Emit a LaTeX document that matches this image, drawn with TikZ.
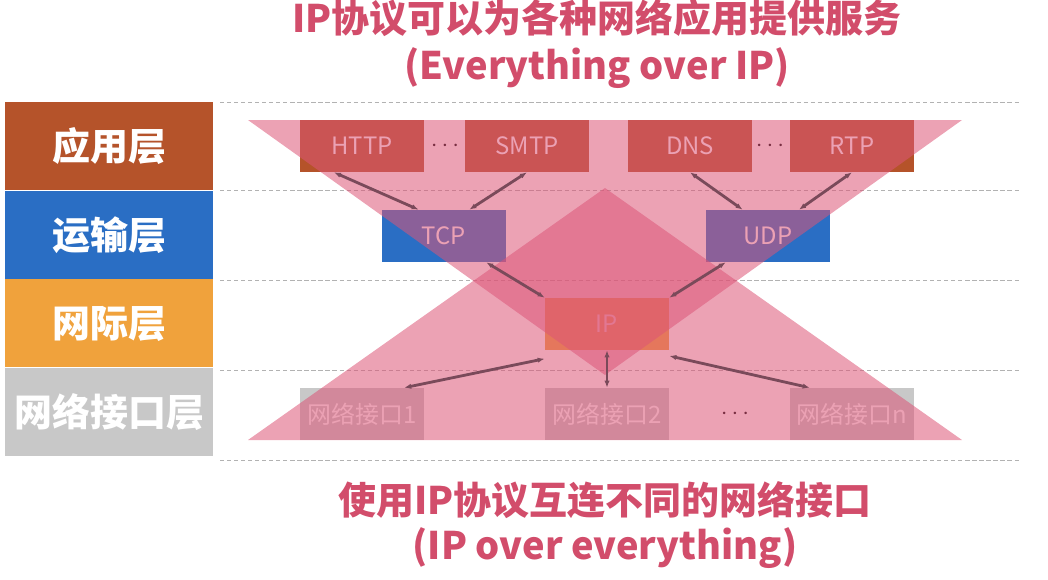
\documentclass[tikz,border=0pt]{standalone}
\usepackage{fontspec}
\setmainfont{Noto Sans CJK SC}
\usetikzlibrary{positioning,arrows.meta}
\definecolor{titlered}{HTML}{D24D6B}
\definecolor{appbrown}{HTML}{B5532A}
\definecolor{tpblue}{HTML}{2A6EC4}
\definecolor{iporange}{HTML}{F0A23C}
\definecolor{ifgray}{HTML}{C8C8C8}
\definecolor{trired}{HTML}{DC5577}
\definecolor{arrowc}{HTML}{7A4A5A}
\tikzset{
    layer/.style={minimum width=5.2cm, minimum height=2.2cm, text=white, font=\bfseries\fontsize{27}{27}\selectfont, inner sep=0pt},
    proto/.style={minimum width=3.1cm, minimum height=1.3cm, text=white, font=\fontsize{17}{17}\selectfont, inner sep=0pt},
    dots/.style={font=\bfseries\fontsize{17}{17}\selectfont},
    link/.style={{Latex[length=5pt]}-{Latex[length=5pt]}, arrowc, line width=2pt},
    sep/.style={densely dashed, gray!60, line width=0.6pt},
    title/.style={text=titlered, font=\bfseries\fontsize{27}{27}\selectfont},
}
\begin{document}
\begin{tikzpicture}[x=0.025cm, y=-0.025cm]
\useasboundingbox (0,0) rectangle (1048,580);
% layers on the left
\node[layer, fill=appbrown, anchor=north west] (app) at (5,102) {应用层};
\node[layer, fill=tpblue, below=0pt of app] (trans) {运输层};
\node[layer, fill=iporange, below=0pt of trans] (net) {网际层};
\node[layer, fill=ifgray, below=0pt of net] (iface) {网络接口层};
\foreach \y in {102,190,280,370,460}
    \draw[sep] (220,\y) -- (1020,\y);
% protocols
\node[proto, fill=appbrown] (http) at (362,146) {HTTP};
\node[dots] (d1) at (445,146) {$\cdots$};
\node[proto, fill=appbrown] (smtp) at (527,146) {SMTP};
\node[proto, fill=appbrown] (dns) at (690,146) {DNS};
\node[dots] (d2) at (770,146) {$\cdots$};
\node[proto, fill=appbrown] (rtp) at (852,146) {RTP};
\node[proto, fill=tpblue] (tcp) at (444,236) {TCP};
\node[proto, fill=tpblue] (udp) at (768,236) {UDP};
\node[proto, fill=iporange] (ip) at (607,324) {IP};
\node[proto, fill=ifgray] (n1) at (362,414) {网络接口1};
\node[proto, fill=ifgray] (n2) at (607,414) {网络接口2};
\node[dots] (d3) at (735,414) {$\cdots$};
\node[proto, fill=ifgray] (nn) at (852,414) {网络接口n};
% triangles
\fill[trired, opacity=0.55] (248,120) -- (962,120) -- (605,375) -- cycle;
\fill[trired, opacity=0.55] (248,440) -- (962,440) -- (605,188) -- cycle;
% arrows
\draw[link] ([xshift=-20pt]http.south) -- ([xshift=-18pt]tcp.north);
\draw[link] (smtp.south) -- ([xshift=18pt]tcp.north);
\draw[link] (dns.south) -- ([xshift=-18pt]udp.north);
\draw[link] (rtp.south) -- ([xshift=22pt]udp.north);
\draw[link] ([xshift=30pt]tcp.south) -- (ip.north west);
\draw[link] ([xshift=-30pt]udp.south) -- (ip.north east);
\draw[link] ([yshift=-6pt]ip.south west) -- ([xshift=30pt]n1.north);
\draw[link] (ip.south) -- (n2.north);
\draw[link] ([yshift=-4pt]ip.south east) -- ([xshift=-30pt]nn.north);
% captions
\node[title] (t1) at (597,18) {IP协议可以为各种网络应用提供服务};
\node[title] (t2) at (597,68) {(Everything over IP)};
\node[title] (b1) at (605,500) {使用IP协议互连不同的网络接口};
\node[title] (b2) at (605,548) {(IP over everything)};
\end{tikzpicture}
\end{document}
